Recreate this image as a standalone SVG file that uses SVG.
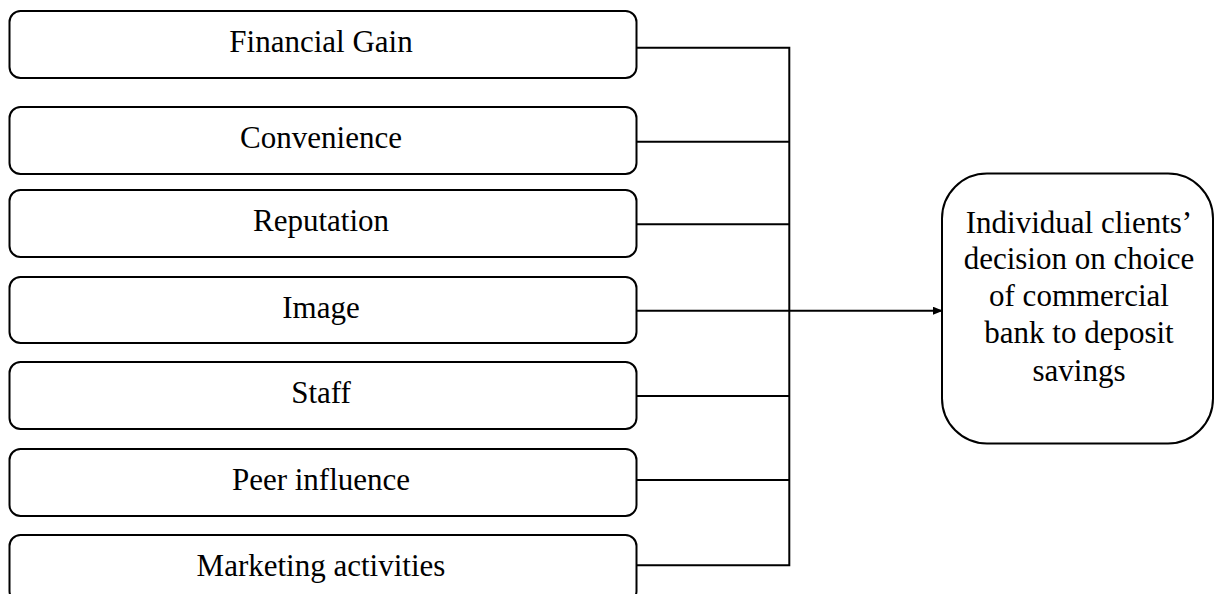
<svg xmlns="http://www.w3.org/2000/svg" width="1214" height="594" viewBox="0 0 1214 594">
<style>
.box{fill:#fff;stroke:#000;stroke-width:2}
.lbl{font-family:"Liberation Serif","Times New Roman",serif;font-size:31px;fill:#000;text-anchor:middle}
.con{fill:none;stroke:#000;stroke-width:2}
</style>
<defs>
<marker id="arr" markerWidth="10" markerHeight="8" refX="9" refY="4" orient="auto" markerUnits="userSpaceOnUse">
<path d="M0,0 L10,4 L0,8 Z" fill="#000"/>
</marker>
</defs>
<rect width="1214" height="594" fill="#fff"/>
<g id="n1"><rect class="box" x="9.5" y="11" width="627" height="67" rx="11"/><text class="lbl" x="321" y="52">Financial Gain</text></g>
<g id="n2"><rect class="box" x="9.5" y="107" width="627" height="67" rx="11"/><text class="lbl" x="321" y="148">Convenience</text></g>
<g id="n3"><rect class="box" x="9.5" y="190" width="627" height="67" rx="11"/><text class="lbl" x="321" y="231">Reputation</text></g>
<g id="n4"><rect class="box" x="9.5" y="277" width="627" height="66" rx="11"/><text class="lbl" x="321" y="318">Image</text></g>
<g id="n5"><rect class="box" x="9.5" y="362" width="627" height="67" rx="11"/><text class="lbl" x="321" y="403">Staff</text></g>
<g id="n6"><rect class="box" x="9.5" y="449" width="627" height="67" rx="11"/><text class="lbl" x="321" y="490">Peer influence</text></g>
<g id="n7"><rect class="box" x="9.5" y="535" width="627" height="67" rx="11"/><text class="lbl" x="321" y="576">Marketing activities</text></g>
<g id="target"><rect class="box" x="942" y="173.5" width="271" height="270" rx="45"/>
<text class="lbl"><tspan x="1079" y="233">Individual clients’</tspan><tspan x="1079" y="269">decision on choice</tspan><tspan x="1079" y="306">of commercial</tspan><tspan x="1079" y="343">bank to deposit</tspan><tspan x="1079" y="381">savings</tspan></text></g>
<g id="connectors">
<path class="con" d="M637,47.7 H789.3 V565.3 H637"/>
<path class="con" d="M637,141.7 H789.3"/>
<path class="con" d="M637,224.3 H789.3"/>
<path class="con" d="M637,396 H789.3"/>
<path class="con" d="M637,480 H789.3"/>
<path class="con" d="M637,310.7 H942" marker-end="url(#arr)"/>
</g>
</svg>
